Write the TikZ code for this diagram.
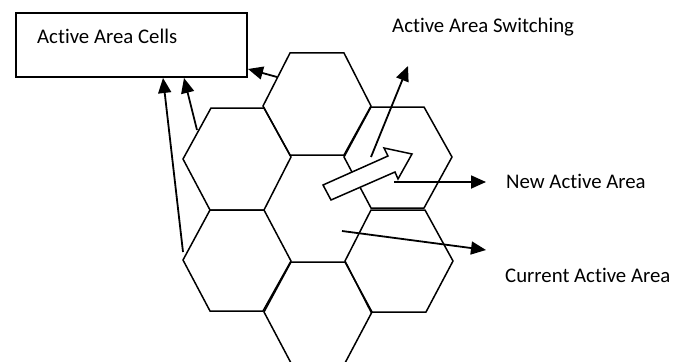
\documentclass[tikz,border=0pt]{standalone}
\usepackage{fontspec}
\setmainfont{Carlito}[Ligatures={NoCommon}]
\usetikzlibrary{arrows.meta}
\begin{document}
\begin{tikzpicture}[x=1pt,y=-1pt,
  hexline/.style={line width=1.5pt, line join=miter},
  conn/.style={line width=1.8pt, -{Triangle[length=15pt,width=13pt]}},
  lbl/.style={anchor=base west, inner sep=0pt, font=\fontsize{20.8}{25}\selectfont},
  blockarrow/.style={line width=1.5pt, fill=white, line join=miter}
  ]
\useasboundingbox (0,0) rectangle (687,361);
\clip (0,0) rectangle (687,361);
% hexagons
\draw[hexline] (290,53) -- (344,53) -- (371,106) -- (344,155) -- (290,155) -- (263,106) -- cycle;
\draw[hexline] (211,108) -- (264,108) -- (291,157) -- (264,210) -- (210,210) -- (183,159) -- cycle;
\draw[hexline] (371,107) -- (424,107) -- (452,157) -- (424,208) -- (371,208) -- (344,157) -- cycle;
\draw[hexline] (210,210) -- (264,210) -- (291,261) -- (263,311) -- (210,311) -- (183,260) -- cycle;
\draw[hexline] (371,210) -- (425,210) -- (453,261) -- (426,312) -- (371,312) -- (345,261) -- cycle;
\draw[hexline] (291,262) -- (345,262) -- (372,312) -- (345,363) -- (291,363) -- (264,312) -- cycle;
% box
\node[draw, line width=1.5pt, minimum width=231pt, minimum height=64pt, inner sep=0pt, outer sep=0pt] (cells) at (131.5,45) {};
% block arrow
\draw[blockarrow] (323,185) -- (388,156) -- (384,148) -- (412,154) -- (398,179) -- (395,172) -- (331,200) -- cycle;
% labels
\node[lbl] (lcells) at (37,44) {Active Area Cells};
\node[lbl] (lswitch) at (392,33) {Active Area Switching};
\node[lbl] (lnew) at (506,188) {New Active Area};
\node[lbl] (lcur) at (505,282) {Current Active Area};
% connector end points
\coordinate (s1) at (277,77); \coordinate (t1) at (248,69);
\coordinate (s2) at (197,130); \coordinate (t2) at (184,78);
\coordinate (s3) at (183,252); \coordinate (t3) at (163,78);
\coordinate (s4) at (371,157); \coordinate (t4) at (408,66);
\coordinate (s5) at (394,182); \coordinate (t5) at (486,182);
\coordinate (s6) at (342,231); \coordinate (t6) at (486,250);
\draw[conn] (s1) -- (t1);
\draw[conn] (s2) -- (t2);
\draw[conn] (s3) -- (t3);
\draw[conn] (s4) -- (t4);
\draw[conn] (s5) -- (t5);
\draw[conn] (s6) -- (t6);
\end{tikzpicture}
\end{document}
